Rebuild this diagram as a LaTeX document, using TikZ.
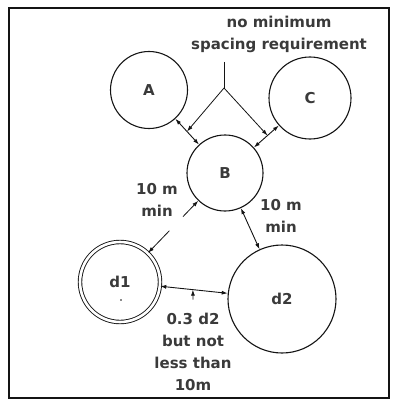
\documentclass[tikz,border=0pt]{standalone}
\usepackage{fontspec}
\setmainfont{DejaVu Sans}
\usetikzlibrary{arrows.meta, calc}
\definecolor{InkBlack}{HTML}{141414}
\definecolor{TextGray}{HTML}{3A3A3A}
\tikzset{
  site/.style={circle, draw=InkBlack, line width=1.1pt, inner sep=0pt, font=\fontsize{15}{17}\selectfont\bfseries, text=TextGray},
  tank/.style={site, double, double distance=2.6pt, line width=0.9pt},
  note/.style={align=center, font=\fontsize{15}{22}\selectfont\bfseries, text=TextGray},
  dim/.style={{Latex[length=6pt,width=4pt]}-{Latex[length=6pt,width=4pt]}, line width=0.9pt, draw=InkBlack},
  leader/.style={-{Latex[length=6pt,width=4pt]}, line width=0.8pt, draw=InkBlack},
  frame/.style={line width=1.4pt, draw=InkBlack}
}

\begin{document}
\begin{tikzpicture}[x=1pt,y=-1pt]
\useasboundingbox (0,0) rectangle (393,401);
\draw[frame] (9,8) rectangle (389,398);

% sites
\node[site, minimum size=77pt] (A) at (149,90) {A};
\node[site, minimum size=76pt] (B) at (225,173) {B};
\node[site, minimum size=82pt] (C) at (310,98) {C};
\node[tank, minimum size=80pt] (d1) at (120,282) {d1};
\node[site, minimum size=108pt] (d2) at (282,299) {d2};
\fill[InkBlack] (121,300) circle (0.9pt);

% spacing lines
\draw[dim] (A) -- (B);
\draw[dim] (C) -- (B);
\draw[dim] (d2) -- (B);
\draw[dim] (d1) -- (d2);
\coordinate (g1) at ($(d1)!0.47!(B)$);
\coordinate (g2) at ($(d1)!0.6!(B)$);
\draw[leader] (g1) -- (d1);
\draw[leader] (g2) -- (B);

% no minimum fork
\coordinate (stem) at (224,62);
\coordinate (fork) at (224,88);
\draw[line width=0.8pt, InkBlack] (stem) -- (fork);
\draw[leader] (fork) -- ($(A)!0.5!(B)$);
\draw[leader] (fork) -- ($(C)!0.5!(B)$);

% labels
\node[note] (spacing) at (279,34) {no minimum\\spacing requirement};
\node[note] (minAB) at (157,200) {10 m\\min};
\node[note] (minBd2) at (281,216) {10 m\\min};
\node[note] (rule) at (193,352) {0.3 d2\\but not\\less than\\10m};
\coordinate (onLine) at ($(d1)!0.45!(d2)$);
\draw[leader, shorten <=10pt] (rule.north) -- (onLine);
\end{tikzpicture}
\end{document}
